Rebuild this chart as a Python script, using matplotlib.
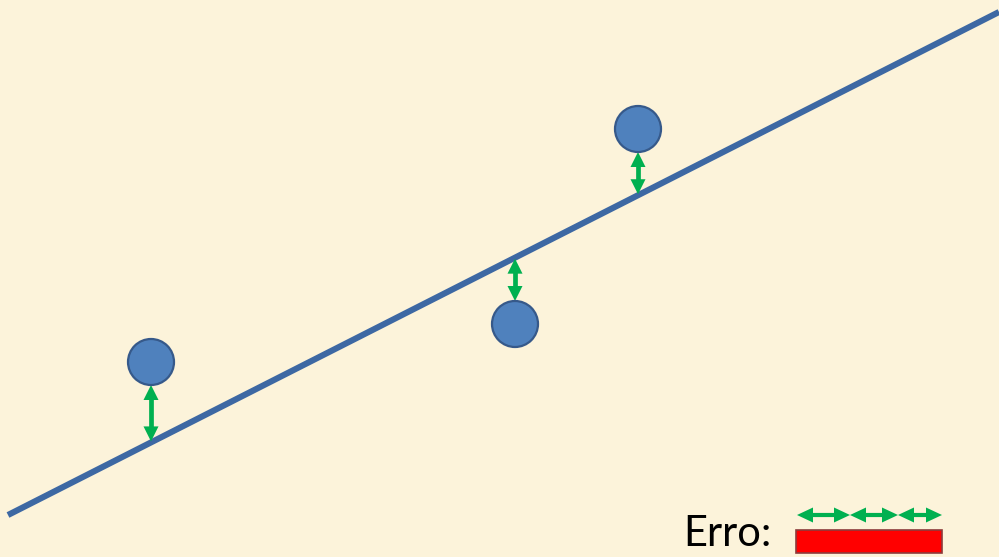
import numpy as np
import matplotlib.pyplot as plt
from matplotlib.patches import Circle, Polygon, Rectangle

# fitted line (end points) and the observed points, in canvas units
line_x = [8, 999]
line_y = [515, 12]
pts_x = [151, 515, 638]
pts_y = [362, 324, 129]
# lengths of the error segments stacked in the legend bar
err_len = [53, 48, 44]

W, H = 999, 557
bg = "#FCF3DA"
blue_line = "#3D68A3"
pt_fill = "#4F81BD"
pt_edge = "#36598A"
green = "#00B050"

fig = plt.figure(figsize=(W/100, H/100), dpi=100, facecolor=bg)
ax = fig.add_axes([0, 0, 1, 1])
ax.set_xlim(0, W); ax.set_ylim(H, 0)
ax.set_facecolor(bg)
ax.axis("off")

ax.plot(line_x, line_y, color=blue_line, lw=4.4, solid_capstyle="butt", zorder=2)

slope = (line_y[1]-line_y[0])/(line_x[1]-line_x[0])
def line_at(x): return line_y[0] + slope*(x - line_x[0])

r = 23
def dbl_arrow(x0, y0, x1, y1, hl=15, hw=15, sw=3.4):
    # shaft as a plain line, heads as filled triangles (canvas units = pixels)
    p0, p1 = np.array([x0, y0], float), np.array([x1, y1], float)
    d = (p1 - p0) / np.hypot(*(p1 - p0))
    n = np.array([-d[1], d[0]])
    ax.plot([p0[0] + d[0]*hl*0.8, p1[0] - d[0]*hl*0.8], [p0[1] + d[1]*hl*0.8, p1[1] - d[1]*hl*0.8],
            color=green, lw=sw, solid_capstyle="butt", zorder=3)
    for tip, dd in ((p0, d), (p1, -d)):
        base = tip + dd*hl
        tri = [tip, base + n*hw/2, base - n*hw/2]
        ax.add_patch(Polygon(tri, closed=True, facecolor=green, edgecolor="none", zorder=3))

for x, y in zip(pts_x, pts_y):
    ax.add_patch(Circle((x, y), r, facecolor=pt_fill, edgecolor=pt_edge, lw=1.6, zorder=4))
    yl = line_at(x)
    if y < yl:
        dbl_arrow(x, y + r, x, yl - 1)
    else:
        dbl_arrow(x, yl + 1, x, y - r)

# legend: "Erro:" with the error segments laid end to end above a red bar
ax.text(683, 546, "Erro:", fontsize=30, family="Lato", color="black", va="baseline", ha="left")
x0 = 797
for L in err_len:
    dbl_arrow(x0, 515, x0 + L, 515, hl=16, hw=15, sw=3.0)
    x0 += L
ax.add_patch(Rectangle((796, 530), 146, 23, facecolor="#FF0000", edgecolor="#8C3B3B", lw=1.2, zorder=3))

fig.savefig("out.png", dpi=100, facecolor=bg)
